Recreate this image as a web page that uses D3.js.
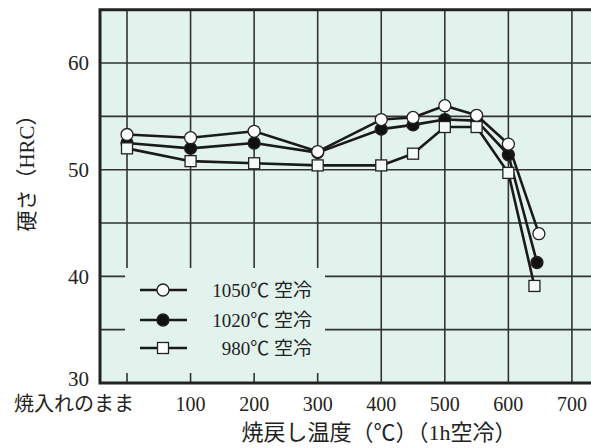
<!DOCTYPE html>
<html>
<head>
<meta charset="utf-8">
<script src="https://cdn.jsdelivr.net/npm/d3@7"></script>
<style>
  body { margin: 0; background: #fff; }
  text { font-family: "Liberation Serif", "Noto Sans CJK JP", serif; fill: #222; }
</style>
</head>
<body>
<div id="chart"></div>
<script>
// tempering temperature (0 = as quenched)
const temps1050 = [0, 100, 200, 300, 400, 450, 500, 550, 600, 648];
const temps1020 = [0, 100, 200, 300, 400, 450, 500, 550, 600, 645];
const temps980  = [0, 100, 200, 300, 400, 450, 500, 550, 600, 641];

// hardness HRC
const hrc1050 = [53.3, 53.0, 53.6, 51.7, 54.7, 54.9, 56.0, 55.1, 52.4, 44.0];
const hrc1020 = [52.5, 52.0, 52.5, 51.6, 53.8, 54.2, 54.7, 54.6, 51.4, 41.3];
const hrc980  = [52.0, 50.8, 50.6, 50.4, 50.4, 51.5, 54.0, 54.0, 49.7, 39.1];

const xTicks = [0, 100, 200, 300, 400, 500, 600, 700];
const xTickLabels = ["焼入れのまま", "100", "200", "300", "400", "500", "600", "700"];
const yTicks = [30, 40, 50, 60];
const yGrid = [35, 40, 45, 50, 55, 60];

const legendLabels = ["1050℃ 空冷", "1020℃ 空冷", "980℃ 空冷"];

var width = 591, height = 448;
var plotLeft = 100, plotTop = 9.7, plotBottom = 383, plotRight = 591;

var svg = d3.select('#chart').append('svg')
  .attr('width', width)
  .attr('height', height);

var x = d3.scaleLinear().domain([-42.5, 730]).range([plotLeft, plotRight]);
var y = d3.scaleLinear().domain([30, 65]).range([plotBottom, plotTop]);

// background
svg.append('rect')
  .attr('x', plotLeft).attr('y', plotTop)
  .attr('width', plotRight - plotLeft).attr('height', plotBottom - plotTop)
  .attr('fill', '#e2f2ec');

// grid
svg.append('g').selectAll('line')
  .data(xTicks).enter().append('line')
  .attr('x1', d => x(d)).attr('x2', d => x(d))
  .attr('y1', plotTop).attr('y2', plotBottom)
  .attr('stroke', '#333').attr('stroke-width', 1.6);

svg.append('g').selectAll('line')
  .data(yGrid).enter().append('line')
  .attr('x1', plotLeft).attr('x2', plotRight)
  .attr('y1', d => y(d)).attr('y2', d => y(d))
  .attr('stroke', '#333').attr('stroke-width', 1.6);

// legend box hides the grid
svg.append('rect')
  .attr('x', 125).attr('y', 268)
  .attr('width', 200).attr('height', 105)
  .attr('fill', '#e2f2ec');

// frame (top, left, bottom)
svg.append('path')
  .attr('d', `M${plotRight},${plotTop}H${plotLeft}V${plotBottom}H${plotRight}`)
  .attr('fill', 'none')
  .attr('stroke', '#222')
  .attr('stroke-width', 3);

// y tick labels
svg.append('g').selectAll('text')
  .data(yTicks).enter().append('text')
  .attr('x', 89)
  .attr('y', d => y(d) - (d === 30 ? 4 : 0))
  .attr('dy', '0.35em')
  .attr('text-anchor', 'end')
  .attr('font-size', 21)
  .text(d => d);

// x tick labels
svg.append('g').selectAll('text')
  .data(xTicks).enter().append('text')
  .attr('x', (d, i) => i === 0 ? 74 : x(d))
  .attr('y', 411)
  .attr('text-anchor', 'middle')
  .attr('font-size', 20)
  .text((d, i) => xTickLabels[i]);

// axis titles
svg.append('text')
  .attr('x', 379).attr('y', 440)
  .attr('text-anchor', 'middle')
  .attr('font-size', 22)
  .text('焼戻し温度（℃）（1h空冷）');

svg.append('text')
  .attr('transform', 'translate(34,168) rotate(-90)')
  .attr('text-anchor', 'middle')
  .attr('font-size', 21)
  .text('硬さ（HRC）');

// series
const series = [
  { temps: temps1020, hrc: hrc1020, shape: 'circle', fill: '#111' },
  { temps: temps980, hrc: hrc980, shape: 'square', fill: '#f4faf8' },
  { temps: temps1050, hrc: hrc1050, shape: 'circle', fill: '#fff' }
];

const line = d3.line()
  .x(d => x(d[0]))
  .y(d => y(d[1]));

function drawMarker(g, shape, fill, cx, cy) {
  if (shape === 'circle') {
    g.append('circle')
      .attr('cx', cx).attr('cy', cy).attr('r', 6)
      .attr('fill', fill).attr('stroke', '#222').attr('stroke-width', 1.3);
  } else {
    g.append('rect')
      .attr('x', cx - 5.5).attr('y', cy - 5.5)
      .attr('width', 11).attr('height', 11)
      .attr('fill', fill).attr('stroke', '#222').attr('stroke-width', 1.3);
  }
}

series.forEach(s => {
  const pts = s.temps.map((t, i) => [t, s.hrc[i]]);
  const g = svg.append('g');
  g.append('path')
    .attr('d', line(pts))
    .attr('fill', 'none')
    .attr('stroke', '#1a1a1a')
    .attr('stroke-width', 2.6)
    .attr('stroke-linejoin', 'round');
  pts.forEach(p => drawMarker(g, s.shape, s.fill, x(p[0]), y(p[1])));
});

// legend
const legendShapes = [
  { shape: 'circle', fill: '#fff' },
  { shape: 'circle', fill: '#111' },
  { shape: 'square', fill: '#fff' }
];
const legendY = [290, 320, 348];

legendShapes.forEach((l, i) => {
  const g = svg.append('g');
  g.append('line')
    .attr('x1', 140).attr('x2', 187)
    .attr('y1', legendY[i]).attr('y2', legendY[i])
    .attr('stroke', '#1a1a1a').attr('stroke-width', 2.6);
  drawMarker(g, l.shape, l.fill, 163, legendY[i]);
  g.append('text')
    .attr('x', 312).attr('y', legendY[i])
    .attr('dy', '0.35em')
    .attr('text-anchor', 'end')
    .attr('font-size', 19)
    .text(legendLabels[i]);
});
</script>
</body>
</html>
